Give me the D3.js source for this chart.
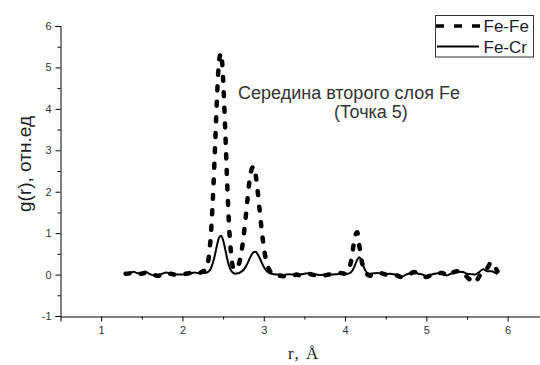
<!DOCTYPE html>
<html>
<head>
<meta charset="utf-8">
<script src="https://cdn.jsdelivr.net/npm/d3@7"></script>
<style>
  html, body { margin: 0; padding: 0; background: #fff; }
  svg { display: block; }
</style>
</head>
<body>
<svg id="chart" width="540" height="365"></svg>
<script>
// Radial distribution g(r): sample radii, Å
const rValues = [
  1.30,1.35,1.40,1.45,1.50,1.55,1.60,1.65,1.70,1.75,1.80,1.85,1.90,1.95,2.00,2.05,2.10,2.15,2.20,2.25,
  2.275,2.300,2.325,2.350,2.375,2.400,2.425,2.450,2.475,2.500,2.525,2.550,2.575,2.600,2.625,2.650,2.675,2.700,
  2.725,2.750,2.775,2.800,2.825,2.850,2.875,2.900,2.925,2.950,2.975,3.000,3.025,3.050,3.075,3.100,3.125,3.150,
  3.20,3.25,3.30,3.35,3.40,3.45,3.50,3.55,3.60,3.65,3.70,3.75,3.80,3.85,3.90,3.95,
  4.000,4.025,4.050,4.075,4.100,4.125,4.150,4.175,4.200,4.225,4.250,4.275,4.300,
  4.35,4.40,4.45,4.50,4.55,4.60,4.65,4.70,4.75,4.80,4.85,4.90,4.95,5.00,5.05,5.10,5.15,5.20,5.25,5.30,
  5.35,5.40,5.45,5.50,5.55,5.60,5.65,5.70,5.75,5.80,5.85,5.875
];

// Fe-Fe pairs
const gFeFe = [
  0.02,0.03,0.06,0.03,0.02,0.05,0.00,-0.01,-0.03,0.01,0.04,0.02,0.00,-0.01,0.01,0.02,0.04,0.06,0.03,0.08,
  0.10,0.17,0.44,0.98,1.86,3.04,4.27,5.15,5.35,4.72,3.55,2.22,1.12,0.46,0.16,0.12,0.16,0.29,
  0.53,0.88,1.33,1.82,2.26,2.54,2.61,2.41,2.02,1.54,1.07,0.67,0.38,0.20,0.09,0.02,-0.02,-0.03,
  -0.03,-0.04,-0.02,-0.03,0.00,-0.02,0.01,0.02,0.00,-0.03,-0.04,-0.02,0.00,-0.01,0.01,0.04,
  0.02,0.05,0.14,0.34,0.66,0.95,1.02,0.70,0.38,0.16,0.05,0.00,-0.03,
  0.02,0.04,0.03,0.00,0.01,0.00,-0.03,-0.06,-0.01,0.02,0.06,0.02,-0.01,-0.06,-0.02,0.02,0.03,0.04,-0.04,0.01,
  0.07,0.08,0.07,-0.06,-0.14,-0.20,-0.04,0.10,0.16,0.30,0.16,0.08
];

// Fe-Cr pairs
const gFeCr = [
  0.02,0.04,0.07,0.03,0.03,0.06,0.01,-0.02,-0.02,0.02,0.05,0.02,0.01,0.00,0.00,0.01,0.03,0.05,0.03,0.04,
  0.04,0.05,0.08,0.15,0.29,0.48,0.71,0.89,0.94,0.83,0.62,0.39,0.20,0.09,0.04,0.02,0.03,0.04,
  0.07,0.11,0.18,0.27,0.38,0.48,0.54,0.55,0.49,0.40,0.29,0.19,0.11,0.06,0.03,0.02,0.01,0.00,
  0.00,-0.01,0.01,0.00,0.02,0.01,0.02,0.03,0.01,0.00,-0.01,0.00,0.01,0.00,0.01,0.02,
  0.01,0.02,0.03,0.06,0.13,0.24,0.36,0.42,0.34,0.21,0.10,0.04,0.02,
  0.03,0.04,0.02,0.01,0.02,0.01,-0.02,-0.05,0.00,0.03,0.05,0.02,0.00,-0.04,-0.01,0.02,0.03,0.03,-0.02,0.02,
  0.06,0.07,0.06,0.02,0.01,0.00,0.06,0.13,0.08,0.08,0.04,0.01
];

const xTicks = [1, 2, 3, 4, 5, 6];
const xMinorTicks = [1.5, 2.5, 3.5, 4.5, 5.5];
const yTicks = [-1, 0, 1, 2, 3, 4, 5, 6];
const yMinorTicks = [-0.5, 0.5, 1.5, 2.5, 3.5, 4.5, 5.5];

const seriesNames = ["Fe-Fe", "Fe-Cr"];
const yTitle = "g(r), отн.ед";
const xTitle = "r, Å";
const noteLines = ["Середина второго слоя Fe", "(Точка 5)"];

const svg = d3.select("#chart");
svg.append("rect").attr("width", 540).attr("height", 365).attr("fill", "#fff");

const x = d3.scaleLinear().domain([0.5, 6.5]).range([60.5, 548.3]);
const y = d3.scaleLinear().domain([-1, 6]).range([316, 26]);

const tickFont = "'Liberation Sans', Arial, sans-serif";
const plainNum = d => String(d);

// Y axis (left), outward ticks
const yAxis = svg.append("g").attr("transform", "translate(60.5,0)");
yAxis.call(d3.axisLeft(y).tickValues(yTicks).tickSize(5).tickPadding(4).tickFormat(plainNum));
yAxis.append("g").call(d3.axisLeft(y).tickValues(yMinorTicks).tickSize(3).tickFormat(""))
  .select(".domain").remove();

// X axis (bottom), outward ticks
const xAxis = svg.append("g").attr("transform", "translate(0,316.5)");
xAxis.call(d3.axisBottom(x).tickValues(xTicks).tickSize(5).tickPadding(5).tickFormat(plainNum));
xAxis.append("g").call(d3.axisBottom(x).tickValues(xMinorTicks).tickSize(3).tickFormat(""))
  .select(".domain").remove();

svg.selectAll(".domain").attr("stroke", "#000").attr("stroke-width", 1);
svg.selectAll(".tick line").attr("stroke", "#000").attr("stroke-width", 1);
svg.selectAll(".tick text")
  .attr("font-family", tickFont)
  .attr("font-size", 11)
  .attr("fill", "#333");

// Curves
const pts = (vals) => rValues.map((r, i) => [r, vals[i]]);
const line = d3.line()
  .x(d => x(d[0]))
  .y(d => y(d[1]))
  .curve(d3.curveMonotoneX);

svg.append("path")
  .datum(pts(gFeCr))
  .attr("d", line)
  .attr("fill", "none")
  .attr("stroke", "#000")
  .attr("stroke-width", 2)
  .attr("stroke-linejoin", "round");

svg.append("path")
  .datum(pts(gFeFe))
  .attr("d", line)
  .attr("fill", "none")
  .attr("stroke", "#000")
  .attr("stroke-width", 4.5)
  .attr("stroke-linecap", "round")
  .attr("stroke-dasharray", "4,11.5");

// Axis titles
svg.append("text")
  .attr("transform", "translate(31,164) rotate(-90)")
  .attr("text-anchor", "middle")
  .attr("font-family", tickFont)
  .attr("font-size", 19)
  .attr("fill", "#222")
  .text(yTitle);

svg.append("text")
  .attr("x", 304)
  .attr("y", 359)
  .attr("text-anchor", "middle")
  .attr("font-family", "'Liberation Serif', 'Times New Roman', serif")
  .attr("font-size", 17)
  .attr("letter-spacing", 1.5)
  .attr("fill", "#222")
  .text(xTitle);

// Annotation
svg.append("text")
  .attr("x", 238)
  .attr("y", 98.5)
  .attr("font-family", tickFont)
  .attr("font-size", 18)
  .attr("fill", "#333")
  .text(noteLines[0]);
svg.append("text")
  .attr("x", 334)
  .attr("y", 117.5)
  .attr("font-family", tickFont)
  .attr("font-size", 18)
  .attr("fill", "#333")
  .text(noteLines[1]);

// Legend
const legend = svg.append("g");
legend.append("rect")
  .attr("x", 435.5).attr("y", 15.5).attr("width", 98).attr("height", 41.5)
  .attr("fill", "#fff").attr("stroke", "#333").attr("stroke-width", 1);
const legendY = [26, 46.5];
legend.append("line")
  .attr("x1", 436).attr("x2", 481).attr("y1", legendY[0]).attr("y2", legendY[0])
  .attr("stroke", "#000").attr("stroke-width", 3.5).attr("stroke-dasharray", "8,10");
legend.append("line")
  .attr("x1", 437).attr("x2", 479).attr("y1", legendY[1]).attr("y2", legendY[1])
  .attr("stroke", "#000").attr("stroke-width", 2);
seriesNames.forEach((name, i) => {
  legend.append("text")
    .attr("x", 483.5)
    .attr("y", legendY[i] + 6)
    .attr("font-family", tickFont)
    .attr("font-size", 17)
    .attr("fill", "#1c1c2c")
    .text(name);
});
</script>
</body>
</html>
